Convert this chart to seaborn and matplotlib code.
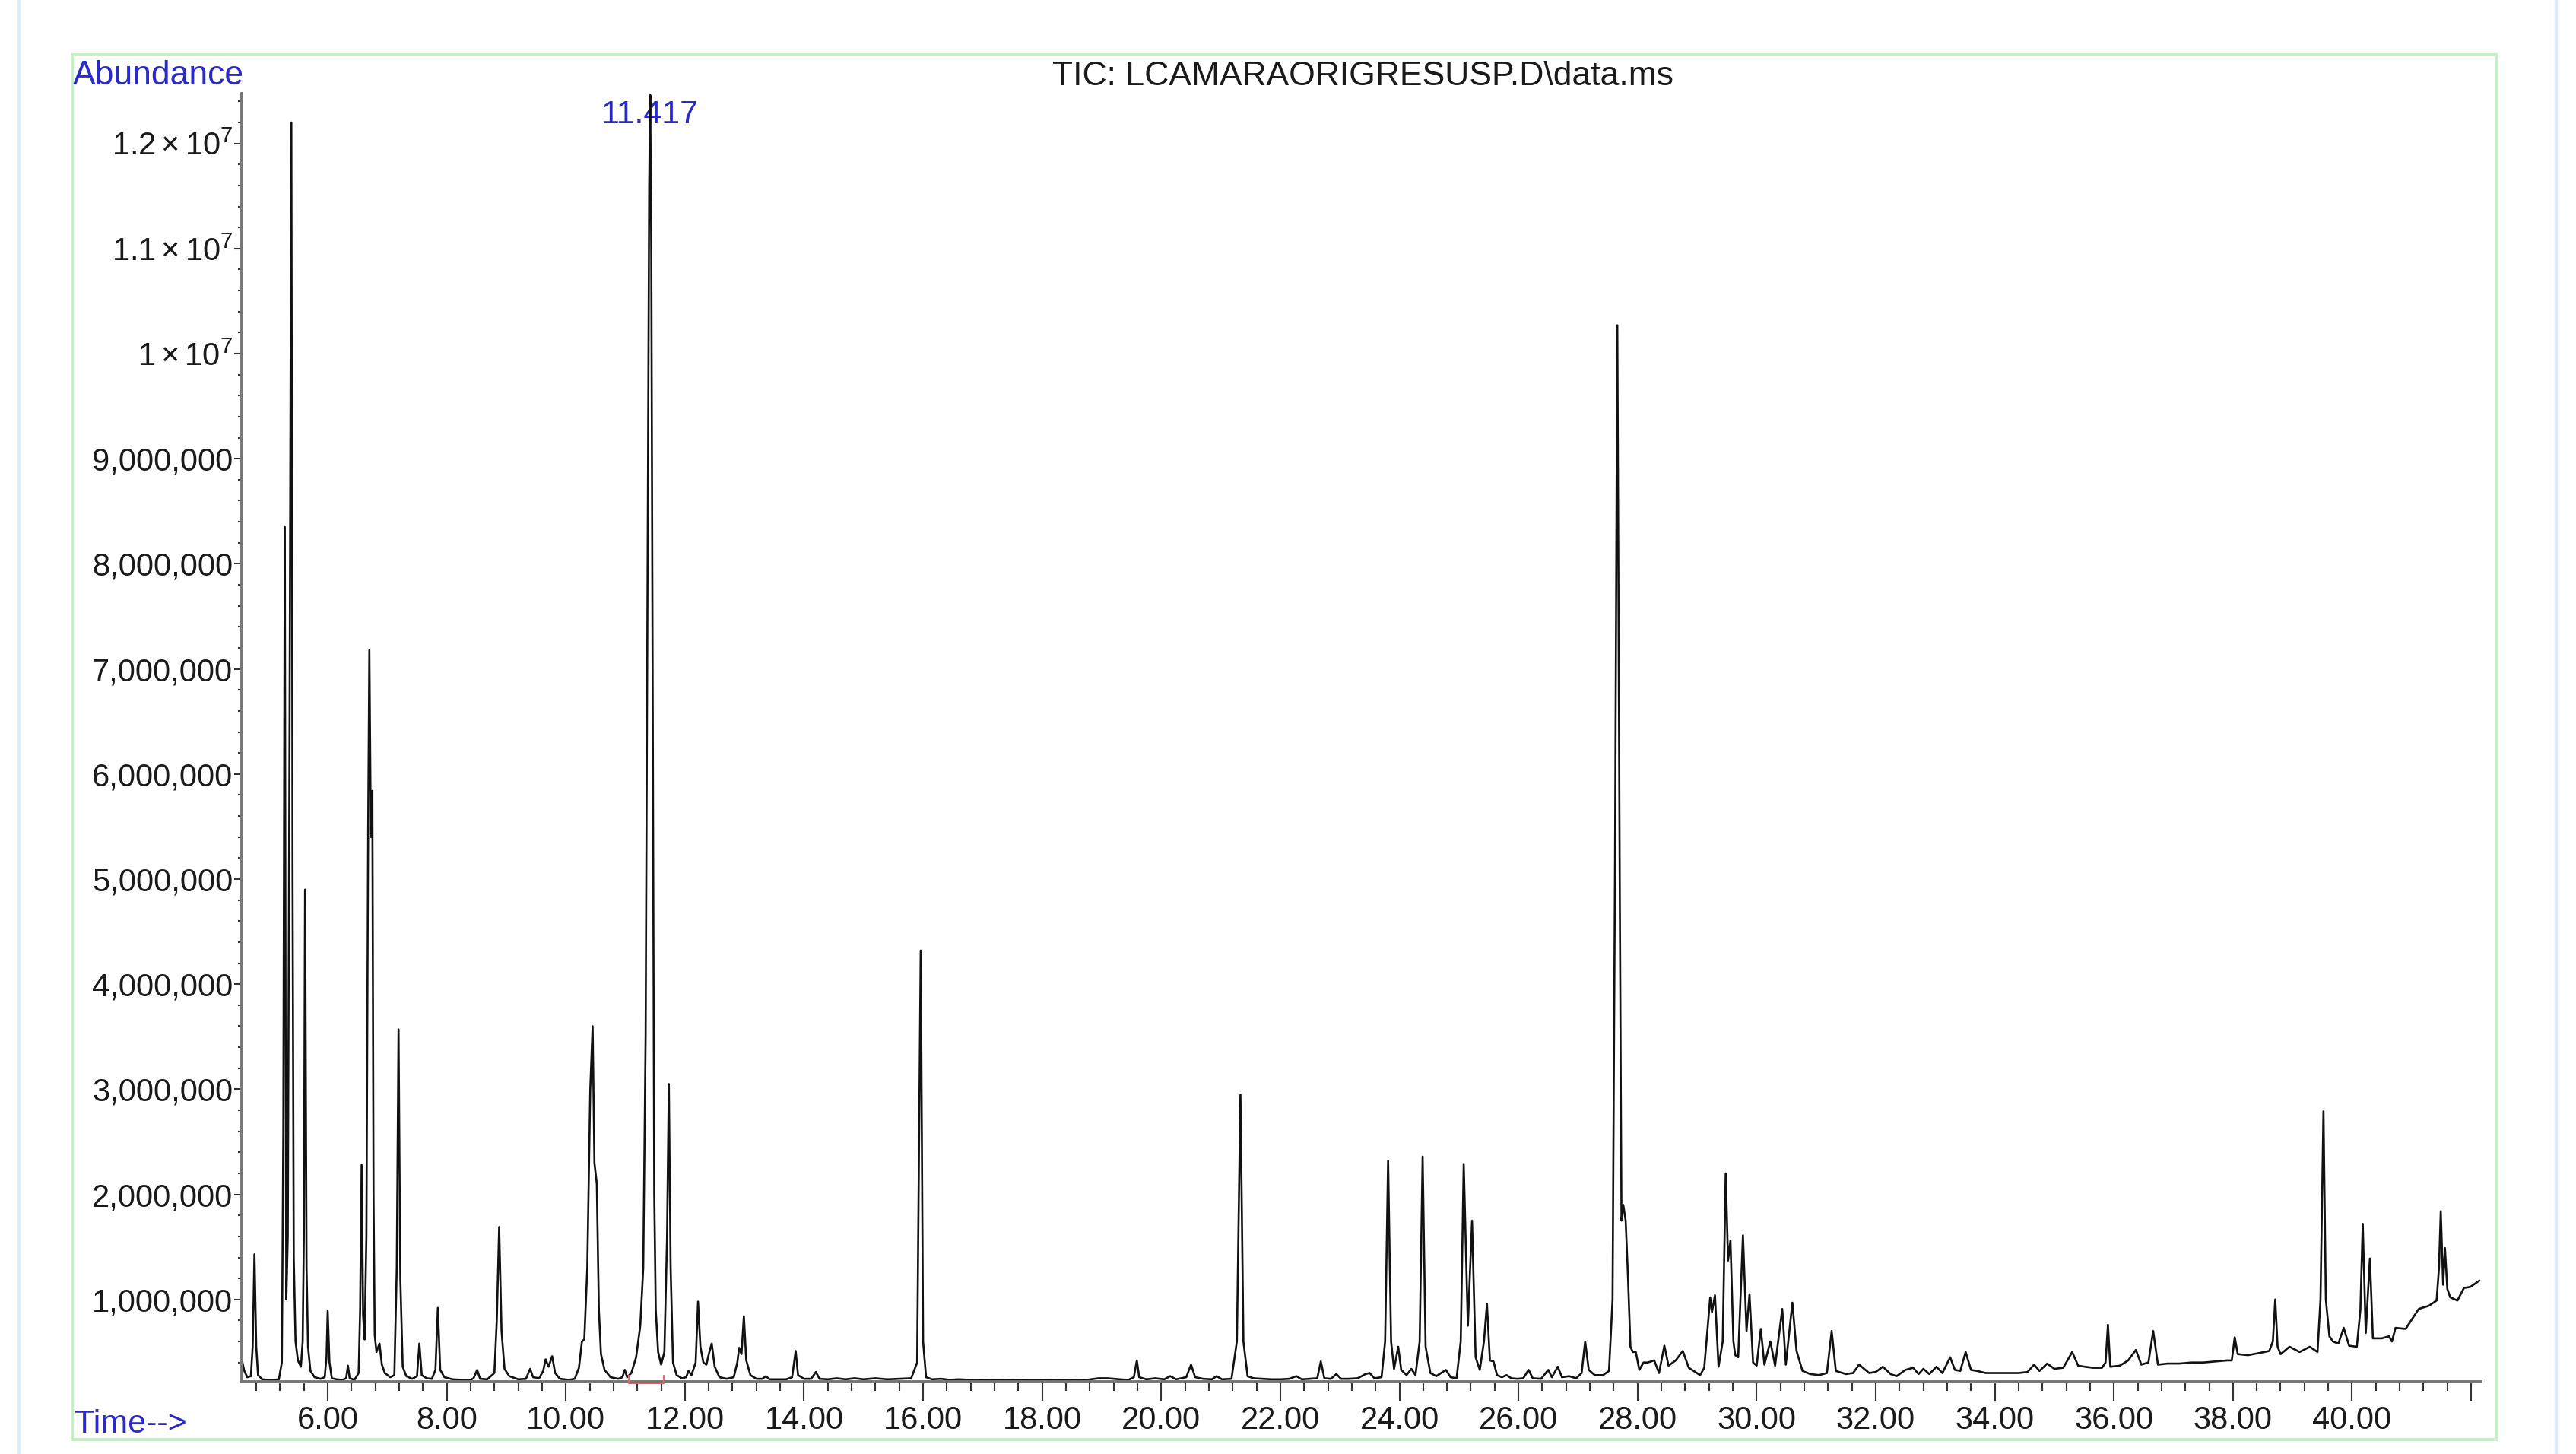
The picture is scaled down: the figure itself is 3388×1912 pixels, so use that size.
import numpy as np
import pandas as pd
import matplotlib
matplotlib.use("Agg")
import matplotlib.pyplot as plt
import seaborn as sns
from matplotlib.ticker import MultipleLocator, FuncFormatter
from matplotlib.lines import Line2D
from matplotlib.patches import Rectangle

# ---------------- data ----------------
retention_time_min = [
    4.56, 4.60, 4.65, 4.71, 4.74, 4.77, 4.80, 4.83, 4.90, 5.00, 5.10, 5.18, 5.23, 5.255, 5.28, 5.295,
    5.305, 5.33, 5.36, 5.39, 5.41, 5.43, 5.46, 5.50, 5.55, 5.58, 5.60, 5.62, 5.645, 5.67, 5.71, 5.78,
    5.88, 5.95, 5.98, 6.00, 6.03, 6.07, 6.15, 6.25, 6.31, 6.34, 6.37, 6.45, 6.52, 6.545, 6.57, 6.595,
    6.62, 6.65, 6.68, 6.70, 6.725, 6.75, 6.77, 6.79, 6.82, 6.87, 6.91, 6.96, 7.05, 7.12, 7.16, 7.19,
    7.22, 7.26, 7.32, 7.42, 7.50, 7.54, 7.58, 7.66, 7.75, 7.81, 7.85, 7.89, 7.96, 8.10, 8.25, 8.40,
    8.45, 8.51, 8.56, 8.68, 8.80, 8.84, 8.88, 8.92, 8.97, 9.05, 9.20, 9.33, 9.40, 9.45, 9.55, 9.62,
    9.66, 9.71, 9.77, 9.82, 9.90, 10.05, 10.15, 10.22, 10.27, 10.31, 10.36, 10.41, 10.45, 10.48, 10.52, 10.555,
    10.59, 10.65, 10.75, 10.88, 10.95, 10.99, 11.03, 11.10, 11.18, 11.25, 11.30, 11.34, 11.37, 11.40, 11.417, 11.435,
    11.46, 11.485, 11.51, 11.55, 11.60, 11.655, 11.70, 11.73, 11.76, 11.80, 11.86, 11.95, 12.02, 12.06, 12.11, 12.18,
    12.22, 12.26, 12.31, 12.36, 12.41, 12.45, 12.50, 12.58, 12.70, 12.82, 12.88, 12.91, 12.95, 12.99, 13.03, 13.10,
    13.20, 13.30, 13.36, 13.42, 13.55, 13.70, 13.80, 13.86, 13.90, 14.00, 14.12, 14.20, 14.26, 14.40, 14.55, 14.70,
    14.85, 15.00, 15.20, 15.40, 15.60, 15.80, 15.90, 15.96, 16.00, 16.05, 16.15, 16.30, 16.45, 16.60, 16.80, 17.00,
    17.25, 17.50, 17.75, 18.00, 18.25, 18.50, 18.75, 18.95, 19.10, 19.30, 19.45, 19.54, 19.59, 19.63, 19.75, 19.90,
    20.05, 20.15, 20.25, 20.42, 20.50, 20.57, 20.70, 20.85, 20.93, 21.02, 21.18, 21.27, 21.33, 21.38, 21.45, 21.55,
    21.70, 21.85, 22.00, 22.15, 22.27, 22.36, 22.50, 22.62, 22.68, 22.74, 22.85, 22.94, 23.02, 23.15, 23.30, 23.43,
    23.50, 23.58, 23.70, 23.76, 23.81, 23.86, 23.91, 23.98, 24.03, 24.12, 24.20, 24.27, 24.34, 24.39, 24.44, 24.52,
    24.62, 24.70, 24.78, 24.86, 24.96, 25.03, 25.08, 25.15, 25.22, 25.28, 25.35, 25.42, 25.47, 25.52, 25.58, 25.64,
    25.72, 25.80, 25.88, 25.98, 26.08, 26.17, 26.24, 26.38, 26.50, 26.56, 26.66, 26.73, 26.85, 26.97, 27.06, 27.12,
    27.18, 27.28, 27.42, 27.52, 27.58, 27.62, 27.66, 27.70, 27.73, 27.76, 27.80, 27.84, 27.88, 27.92, 27.97, 28.03,
    28.10, 28.17, 28.28, 28.36, 28.45, 28.52, 28.64, 28.76, 28.86, 29.05, 29.12, 29.22, 29.25, 29.30, 29.36, 29.43,
    29.48, 29.52, 29.56, 29.61, 29.64, 29.69, 29.77, 29.83, 29.88, 29.94, 30.00, 30.07, 30.13, 30.23, 30.31, 30.43,
    30.49, 30.60, 30.67, 30.77, 30.90, 31.05, 31.18, 31.26, 31.33, 31.50, 31.62, 31.72, 31.89, 32.00, 32.12, 32.25,
    32.35, 32.50, 32.63, 32.72, 32.80, 32.90, 33.02, 33.12, 33.25, 33.33, 33.42, 33.51, 33.60, 33.70, 33.85, 34.00,
    34.20, 34.40, 34.55, 34.66, 34.75, 34.88, 35.00, 35.15, 35.30, 35.40, 35.51, 35.65, 35.80, 35.86, 35.90, 35.94,
    36.10, 36.24, 36.37, 36.46, 36.58, 36.66, 36.74, 36.90, 37.10, 37.30, 37.50, 37.70, 37.90, 37.98, 38.03, 38.08,
    38.25, 38.44, 38.61, 38.67, 38.71, 38.75, 38.80, 38.95, 39.12, 39.29, 39.42, 39.47, 39.52, 39.56, 39.62, 39.68,
    39.77, 39.86, 39.95, 40.08, 40.14, 40.18, 40.23, 40.30, 40.35, 40.50, 40.62, 40.67, 40.73, 40.90, 41.05, 41.12,
    41.29, 41.42, 41.46, 41.49, 41.53, 41.56, 41.60, 41.65, 41.77, 41.88, 41.99, 42.14,
]

abundance_millions = [
    0.42, 0.32, 0.26, 0.27, 0.55, 1.43, 0.55, 0.28, 0.24, 0.235, 0.235, 0.24, 0.40, 2.6, 8.35, 3.0,
    1.0, 1.6, 6.5, 12.2, 5.0, 1.4, 0.60, 0.42, 0.36, 0.60, 1.6, 4.9, 1.3, 0.55, 0.32, 0.26,
    0.245, 0.26, 0.45, 0.89, 0.40, 0.25, 0.24, 0.235, 0.25, 0.37, 0.25, 0.235, 0.30, 0.9, 2.28, 0.85,
    0.62, 1.6, 5.5, 7.18, 5.4, 5.84, 2.0, 0.66, 0.50, 0.58, 0.38, 0.30, 0.26, 0.28, 1.3, 3.57,
    1.2, 0.36, 0.27, 0.245, 0.27, 0.58, 0.28, 0.25, 0.245, 0.33, 0.92, 0.33, 0.26, 0.24, 0.235, 0.235,
    0.25, 0.33, 0.245, 0.24, 0.30, 0.80, 1.69, 0.70, 0.34, 0.27, 0.24, 0.245, 0.34, 0.26, 0.25, 0.32,
    0.43, 0.36, 0.46, 0.30, 0.245, 0.235, 0.245, 0.35, 0.60, 0.62, 1.30, 3.0, 3.6, 2.3, 2.1, 0.9,
    0.48, 0.33, 0.26, 0.245, 0.26, 0.33, 0.26, 0.30, 0.45, 0.75, 1.3, 3.5, 7.5, 11.6, 12.46, 11.0,
    6.5, 2.0, 0.9, 0.50, 0.38, 0.50, 1.6, 3.05, 1.3, 0.40, 0.28, 0.25, 0.26, 0.32, 0.28, 0.40,
    0.98, 0.55, 0.40, 0.38, 0.50, 0.58, 0.36, 0.26, 0.245, 0.26, 0.40, 0.54, 0.48, 0.84, 0.42, 0.28,
    0.245, 0.245, 0.27, 0.24, 0.24, 0.24, 0.26, 0.51, 0.28, 0.245, 0.245, 0.31, 0.245, 0.24, 0.25, 0.24,
    0.25, 0.24, 0.25, 0.24, 0.245, 0.25, 0.40, 4.32, 0.60, 0.26, 0.24, 0.245, 0.235, 0.24, 0.235, 0.235,
    0.23, 0.235, 0.23, 0.23, 0.235, 0.23, 0.235, 0.25, 0.25, 0.24, 0.235, 0.26, 0.42, 0.26, 0.24, 0.25,
    0.24, 0.27, 0.24, 0.26, 0.38, 0.26, 0.245, 0.24, 0.27, 0.24, 0.245, 0.60, 2.95, 0.60, 0.27, 0.25,
    0.245, 0.24, 0.24, 0.245, 0.27, 0.24, 0.245, 0.25, 0.41, 0.25, 0.245, 0.29, 0.245, 0.245, 0.25, 0.29,
    0.30, 0.25, 0.26, 0.60, 2.32, 0.60, 0.34, 0.55, 0.33, 0.28, 0.34, 0.28, 0.60, 2.36, 0.55, 0.30,
    0.27, 0.30, 0.33, 0.26, 0.25, 0.60, 2.29, 0.75, 1.75, 0.45, 0.33, 0.60, 0.96, 0.42, 0.41, 0.28,
    0.26, 0.28, 0.25, 0.245, 0.25, 0.33, 0.25, 0.245, 0.33, 0.26, 0.36, 0.26, 0.27, 0.25, 0.30, 0.60,
    0.33, 0.28, 0.28, 0.32, 1.0, 5.0, 10.27, 5.0, 1.75, 1.90, 1.75, 1.2, 0.55, 0.50, 0.50, 0.33,
    0.40, 0.40, 0.42, 0.30, 0.56, 0.37, 0.42, 0.51, 0.35, 0.28, 0.35, 1.02, 0.88, 1.04, 0.36, 0.60,
    2.20, 1.37, 1.56, 0.60, 0.47, 0.45, 1.61, 0.70, 1.05, 0.40, 0.37, 0.72, 0.38, 0.60, 0.37, 0.91,
    0.38, 0.97, 0.51, 0.32, 0.29, 0.28, 0.30, 0.70, 0.32, 0.29, 0.30, 0.38, 0.30, 0.31, 0.36, 0.29,
    0.27, 0.33, 0.35, 0.29, 0.34, 0.29, 0.36, 0.30, 0.45, 0.33, 0.32, 0.50, 0.33, 0.32, 0.30, 0.30,
    0.30, 0.30, 0.31, 0.38, 0.32, 0.39, 0.34, 0.35, 0.50, 0.37, 0.36, 0.35, 0.35, 0.40, 0.76, 0.36,
    0.37, 0.42, 0.52, 0.38, 0.40, 0.70, 0.38, 0.39, 0.39, 0.40, 0.40, 0.41, 0.42, 0.42, 0.64, 0.48,
    0.47, 0.49, 0.51, 0.60, 1.00, 0.55, 0.48, 0.55, 0.50, 0.55, 0.50, 1.00, 2.79, 1.00, 0.65, 0.60,
    0.58, 0.73, 0.56, 0.55, 0.90, 1.72, 0.68, 1.39, 0.63, 0.63, 0.65, 0.60, 0.73, 0.72, 0.85, 0.91,
    0.94, 0.99, 1.30, 1.84, 1.14, 1.49, 1.10, 1.02, 0.99, 1.11, 1.12, 1.18,
]

x_major_ticks = [6, 8, 10, 12, 14, 16, 18, 20, 22, 24, 26, 28, 30, 32, 34, 36, 38, 40, 42]
x_tick_labels = ["6.00", "8.00", "10.00", "12.00", "14.00", "16.00", "18.00", "20.00", "22.00",
                 "24.00", "26.00", "28.00", "30.00", "32.00", "34.00", "36.00", "38.00", "40.00", ""]
labeled_peak_time = 11.417
labeled_peak_text = "11.417"
integration_window = [11.06, 11.65]
title_text = "TIC: LCAMARAORIGRESUSP.D\\data.ms"
y_label_text = "Abundance"
x_label_text = "Time-->"

# ---------------- style ----------------
sns.set_style("ticks")
plt.rcParams["font.family"] = ["Liberation Sans", "DejaVu Sans"]
plt.rcParams["mathtext.fontset"] = "custom"
plt.rcParams["mathtext.rm"] = "Liberation Sans"
plt.rcParams["mathtext.it"] = "Liberation Sans:italic"
plt.rcParams["mathtext.bf"] = "Liberation Sans:bold"

BLUE = "#2a2ac6"
W, H = 3388, 1912
fig = plt.figure(figsize=(W / 100, H / 100), dpi=100)
fig.patch.set_facecolor("white")


def fx(px):
    return px / W


def fy(py):
    return 1 - py / H


ax_left, ax_right, ax_top, ax_bottom = 317.6, 3262.6, 122.7, 1817.0
ax = fig.add_axes([fx(ax_left), fy(ax_bottom), (ax_right - ax_left) / W, (ax_bottom - ax_top) / H])
ax.set_facecolor("none")

df = pd.DataFrame({"time": retention_time_min,
                   "abundance": np.array(abundance_millions) * 1e6})
sns.lineplot(data=df, x="time", y="abundance", ax=ax, color="#111111",
             linewidth=1.9, estimator=None, sort=False)

ax.set_xlim(4.552, 42.16)
ax.set_ylim(0.217e6, 12.477e6)
ax.set_xlabel("")
ax.set_ylabel("")

# integration marker (red bracket at the baseline of the labelled peak)
ax.plot([integration_window[0], integration_window[0], integration_window[1], integration_window[1]],
        [0.275e6, 0.205e6, 0.205e6, 0.275e6], color="#e06a6a", lw=1.6, clip_on=False, zorder=3)

# spines
for s in ["top", "right"]:
    ax.spines[s].set_visible(False)
for s in ["left", "bottom"]:
    ax.spines[s].set_linewidth(2.8)
    ax.spines[s].set_color("#767676")

# ticks
ax.set_xticks(x_major_ticks, labels=x_tick_labels)
ax.xaxis.set_minor_locator(MultipleLocator(0.4))
ax.yaxis.set_major_locator(MultipleLocator(1e6))
ax.yaxis.set_minor_locator(MultipleLocator(2e5))


def yfmt(v, pos):
    if v >= 9.5e6:
        mant = v / 1e7
        s = "1" if abs(mant - 1) < 1e-6 else f"{mant:.1f}"
        return r"$\mathregular{" + s + r"\times10^{7}}$"
    return f"{int(round(v)):,}"


ax.yaxis.set_major_formatter(FuncFormatter(yfmt))

ax.tick_params(axis="x", which="major", length=18, width=1.5, direction="out",
               pad=4.5, labelsize=30, color="#333333", labelcolor="#1a1a1a", bottom=True)
ax.tick_params(axis="x", which="minor", length=8.6, width=1.5, direction="out",
               color="#333333", bottom=True)
ax.tick_params(axis="y", which="major", length=7.2, width=1.5, direction="out",
               pad=1, labelsize=30, color="#333333", labelcolor="#1a1a1a", left=True)
ax.tick_params(axis="y", which="minor", length=3.6, width=1.5, direction="out",
               color="#333333", left=True)

# peak label
ax.text(labeled_peak_time, (ax_bottom - 161.7) / (ax_bottom - ax_top), labeled_peak_text,
        transform=ax.get_xaxis_transform(), ha="center", va="baseline",
        fontsize=31, color=BLUE, zorder=1)

# ---------------- frame decorations ----------------
for xpx in (25, 3362):
    fig.add_artist(Line2D([fx(xpx), fx(xpx)], [0, 1], transform=fig.transFigure,
                          color="#dcecf8", lw=3.2))
fig.add_artist(Rectangle((fx(95), fy(1893)), (3283 - 95) / W, (1893 - 72) / H,
                         transform=fig.transFigure, fill=False, ec="#c6efc6", lw=2.8))

fig.text(fx(96), fy(111), y_label_text, fontsize=32, color=BLUE, ha="left", va="baseline")
fig.text(fx(1792), fy(112), title_text, fontsize=32, color="#1a1a1a", ha="center", va="baseline")
fig.text(fx(98), fy(1884), x_label_text, fontsize=31, color=BLUE, ha="left", va="baseline")

fig.savefig("out.png", dpi=100, facecolor="white")
